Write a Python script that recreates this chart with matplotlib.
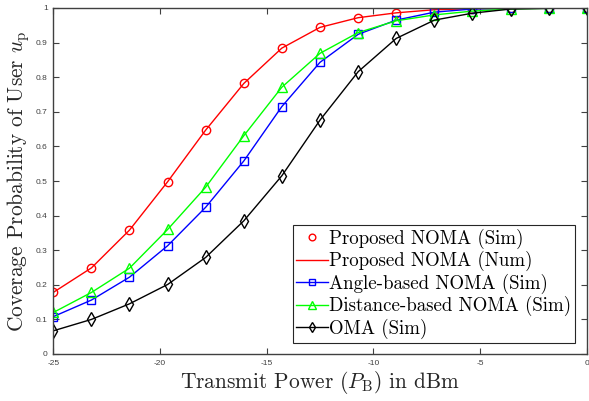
import numpy as np
import matplotlib
matplotlib.use('Agg')
import matplotlib.pyplot as plt

power_dbm = [-25, -23.21, -21.43, -19.64, -17.86, -16.07, -14.29, -12.5,
             -10.71, -8.93, -7.14, -5.36, -3.57, -1.79, 0]
proposed_sim = [0.178, 0.249, 0.358, 0.498, 0.647, 0.782, 0.884, 0.944,
                0.972, 0.986, 0.995, 0.998, 0.999, 1.0, 1.0]
proposed_num = [0.178, 0.249, 0.358, 0.498, 0.647, 0.782, 0.884, 0.944,
                0.972, 0.986, 0.995, 0.998, 0.999, 1.0, 1.0]
angle_sim = [0.108, 0.156, 0.222, 0.313, 0.424, 0.558, 0.715, 0.843,
             0.924, 0.965, 0.988, 0.997, 0.999, 1.0, 1.0]
distance_sim = [0.120, 0.178, 0.248, 0.360, 0.482, 0.631, 0.771, 0.869,
                0.929, 0.963, 0.980, 0.991, 0.997, 0.999, 1.0]
oma_sim = [0.067, 0.100, 0.145, 0.201, 0.279, 0.385, 0.515, 0.676,
           0.816, 0.912, 0.965, 0.985, 0.997, 0.999, 1.0]

plt.rcParams['mathtext.fontset'] = 'cm'
serif = ['cmr10', 'DejaVu Serif']

fig = plt.figure(figsize=[5.89, 4.01], dpi=100)
ax = fig.add_axes([53.3 / 589, 1 - 354 / 401, 533.4 / 589, 346 / 401])

ax.plot(power_dbm, proposed_sim, 'o', color='red', mfc='none', ms=6,
        mew=1, label='Proposed NOMA (Sim)')
ax.plot(power_dbm, proposed_num, '-', color='red', lw=1,
        label='Proposed NOMA (Num)')
ax.plot(power_dbm, angle_sim, '-s', color='blue', mfc='none', ms=5.5,
        mew=1, lw=1, label='Angle-based NOMA (Sim)')
ax.plot(power_dbm, distance_sim, '-^', color='#00ff00', mfc='none', ms=6.5,
        mew=1, lw=1, label='Distance-based NOMA (Sim)')
ax.plot(power_dbm, oma_sim, '-d', color='black', mfc='none', ms=7,
        mew=1, lw=1, label='OMA (Sim)')

ax.set_xlim(-25, 0)
ax.set_ylim(0, 1)
ax.set_xticks([-25, -20, -15, -10, -5, 0])
ax.set_xticklabels(['-25', '-20', '-15', '-10', '-5', '0'])
ax.set_yticks(np.arange(0, 1.01, 0.1))
ax.set_yticklabels(['0', '0.1', '0.2', '0.3', '0.4', '0.5', '0.6', '0.7',
                    '0.8', '0.9', '1'])
ax.tick_params(direction='in', top=True, right=True, length=4,
               color='#404040', labelsize=6, labelcolor='#404040', pad=4)
for s in ax.spines.values():
    s.set_color('#404040')
    s.set_linewidth(1)
for lab in ax.get_xticklabels() + ax.get_yticklabels():
    lab.set_family(['Liberation Sans', 'DejaVu Sans'])

ax.set_xlabel(r'Transmit Power ($P_\mathrm{B}$) in dBm', fontsize=15.4,
              family=serif, color='#262626', labelpad=2)
ax.set_ylabel(r'Coverage Probability of User $u_\mathrm{p}$', fontsize=15.4,
              family=serif, color='#262626', labelpad=3)

leg = ax.legend(loc='lower right', prop={'family': serif, 'size': 13.6},
                handlelength=1.65, handletextpad=0.1, borderpad=0.2,
                labelspacing=0.12, fancybox=False, framealpha=1,
                edgecolor='#262626', borderaxespad=0.6, markerscale=0.8)
leg.get_frame().set_linewidth(0.8)

fig.savefig('out.png', dpi=100)
